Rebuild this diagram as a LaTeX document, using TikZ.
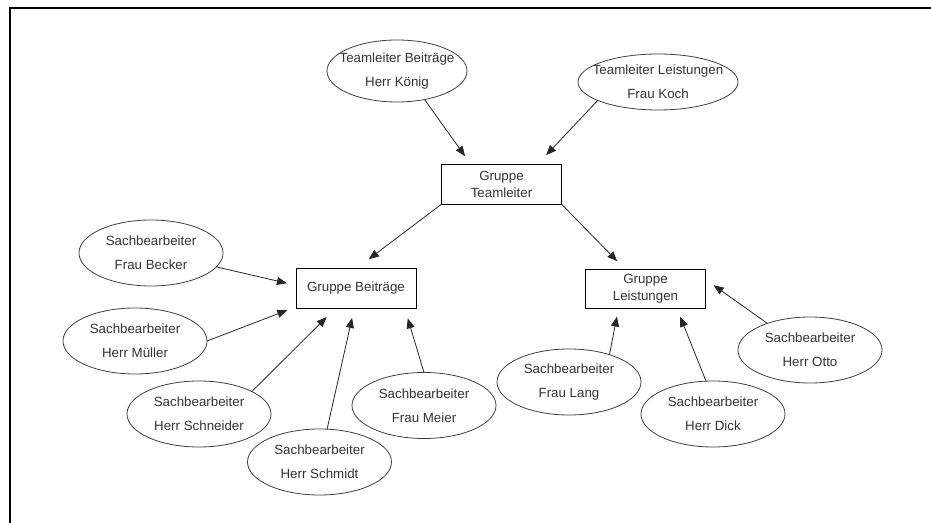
\documentclass[tikz,border=0pt]{standalone}
\usepackage{fontspec}
\setmainfont{Liberation Sans}
\usetikzlibrary{shapes.geometric,arrows.meta}

\begin{document}
\begin{tikzpicture}[
    x=0.75pt, y=-0.75pt,
    person/.style={ellipse, draw=black!75, line width=0.6pt, minimum width=108pt, minimum height=49.5pt, inner xsep=-14pt, inner ysep=0pt, outer sep=0pt, align=center, text=black!80, font=\fontsize{10}{18}\selectfont},
    group/.style={rectangle, draw, line width=0.6pt, minimum width=90pt, minimum height=29.5pt, inner sep=0pt, outer sep=0pt, align=center, text=black!80, font=\fontsize{10}{12.75}\selectfont},
    arrow/.style={-{Triangle[length=7.5pt,width=6pt]}, line width=0.6pt, black!85}
]
\useasboundingbox (0,0) rectangle (931,523);
\draw[line width=1.5pt] (10,523) -- (10,8.5) -- (931,8.5);

% Nodes
\node[group] (team) at (501.5,184.5) {Gruppe\\Teamleiter};
\node[group] (beitr) at (356,288.5) {Gruppe Beiträge};
\node[group] (leist) at (645.5,289) {Gruppe\\Leistungen};
\node[person, minimum width=105pt, minimum height=46.5pt] (koenig) at (397,71) {Teamleiter Beiträge\\Herr König};
\node[person, minimum width=120pt, minimum height=42pt] (koch) at (658,82) {Teamleiter Leistungen\\Frau Koch};
\node[person] (becker) at (151,253) {Sachbearbeiter\\Frau Becker};
\node[person] (mueller) at (135,341) {Sachbearbeiter\\Herr Müller};
\node[person] (schneider) at (199,414) {Sachbearbeiter\\Herr Schneider};
\node[person] (schmidt) at (319.5,462) {Sachbearbeiter\\Herr Schmidt};
\node[person] (meier) at (424,405.5) {Sachbearbeiter\\Frau Meier};
\node[person] (lang) at (569,382) {Sachbearbeiter\\Frau Lang};
\node[person] (dick) at (713,414) {Sachbearbeiter\\Herr Dick};
\node[person] (otto) at (810,350) {Sachbearbeiter\\Herr Otto};

% Arrows
\draw[arrow, shorten >=8pt] (koenig.314) -- (team.147);
\draw[arrow, shorten >=10pt] (koch.197) -- (team.29);
\draw[arrow, shorten >=12pt] (team.south west) -- (beitr.north);
\draw[arrow, shorten >=8.5pt] (team.south east) -- (leist.136);
\draw[arrow, shorten >=7pt] (becker.348) -- (beitr.177);
\draw[arrow, shorten >=7pt] (mueller.east) -- (beitr.197);
\draw[arrow, shorten >=9.5pt] (schneider.23) -- (beitr.224);
\draw[arrow, shorten >=7.5pt] (schmidt.77) -- (beitr.265);
\draw[arrow, shorten >=8pt] (meier.north) -- (beitr.338);
\draw[arrow, shorten >=6pt] (lang.34) -- (leist.216);
\draw[arrow, shorten >=6.5pt] (dick.102) -- (leist.328);
\draw[arrow, shorten >=7.5pt] (otto.148) -- (leist.9);

\end{tikzpicture}
\end{document}
